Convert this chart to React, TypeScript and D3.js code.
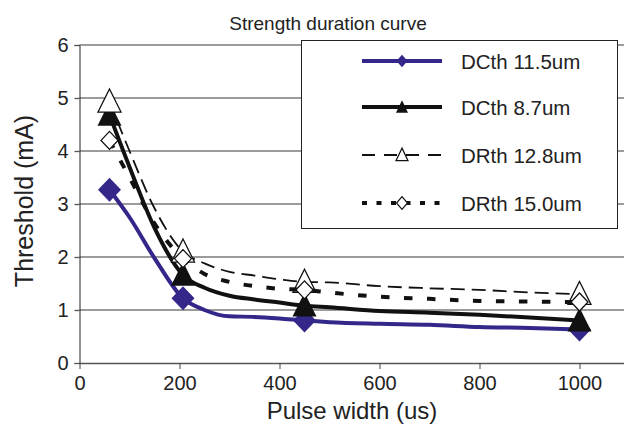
import React, { useRef, useEffect } from "react";
import * as d3 from "d3";

// pulse widths (us) where each curve was sampled
const pulseWidths = [60, 100, 150, 207, 250, 300, 350, 400, 450, 500, 600, 700, 800, 900, 1000];
// only these ones carry a marker
const markerWidths = [60, 207, 450, 1000];

const dcth115 = [3.27, 2.75, 1.98, 1.22, 1.0, 0.88, 0.87, 0.84, 0.8, 0.77, 0.74, 0.72, 0.68, 0.66, 0.63];
const dcth87 = [4.68, 3.7, 2.55, 1.66, 1.42, 1.27, 1.2, 1.14, 1.08, 1.05, 0.98, 0.95, 0.91, 0.86, 0.8];
const drth128 = [4.93, 4.0, 2.92, 2.1, 1.88, 1.72, 1.65, 1.58, 1.53, 1.52, 1.45, 1.41, 1.38, 1.33, 1.3];
const drth150 = [4.2, 3.5, 2.63, 1.97, 1.68, 1.53, 1.45, 1.4, 1.38, 1.33, 1.25, 1.21, 1.17, 1.16, 1.15];

const seriesNames = ["DCth 11.5um", "DCth 8.7um", "DRth 12.8um", "DRth 15.0um"];
const xTicks = [0, 200, 400, 600, 800, 1000];
const yTicks = [0, 1, 2, 3, 4, 5, 6];

const FONT = "'Liberation Sans', Arial, Helvetica, sans-serif";

const diamond = (w, h) => `M0,${-h}L${w},0L0,${h}L${-w},0Z`;
const triangle = (w, h) => `M0,${-h * 0.55}L${w},${h * 0.45}L${-w},${h * 0.45}Z`;

const styles = [
  { stroke: "#33288a", width: 4, dash: null, marker: "diamond", fill: "#33288a", mw: 11.5, mh: 12, lw: 5.5, lh: 6.3 },
  { stroke: "#111", width: 4, dash: null, marker: "triangle", fill: "#111", mw: 12, mh: 24, lw: 6, lh: 12.5 },
  { stroke: "#111", width: 1.8, dash: "14,7", marker: "triangle", fill: "#fff", mw: 11.5, mh: 23, lw: 6, lh: 12.5 },
  { stroke: "#111", width: 4, dash: "8.5,14.5", marker: "diamond", fill: "#fff", mw: 8.5, mh: 9, lw: 5.5, lh: 6.3 },
];

const Chart = () => {
  const width = 624;
  const height = 433;
  const svgRef = useRef(null);

  useEffect(() => {
    const svg = d3.select(svgRef.current);
    svg.selectAll("*").remove();

    const x = d3.scaleLinear([0, 1200], [79.5, 679.5]);
    const y = d3.scaleLinear([0, 6], [363, 45]);

    // gridlines
    svg
      .append("g")
      .selectAll("line")
      .data(yTicks.filter((t) => t > 0))
      .join("line")
      .attr("x1", x(0))
      .attr("x2", x(1200))
      .attr("y1", (d) => y(d))
      .attr("y2", (d) => y(d))
      .attr("stroke", "#7a7a7a")
      .attr("stroke-width", 1.3);

    // y axis
    const yAxis = svg
      .append("g")
      .attr("transform", `translate(${x(0)},0)`)
      .call(d3.axisLeft(y).tickValues(yTicks).tickSize(5).tickPadding(6).tickFormat(d3.format("d")));
    yAxis.select(".domain").attr("stroke", "#222");
    yAxis.selectAll(".tick line").attr("stroke", "#555").attr("stroke-width", 1.3);
    yAxis.selectAll("text").attr("font-size", 20).attr("font-family", FONT).attr("fill", "#222");

    // x axis
    const xAxis = svg
      .append("g")
      .attr("transform", `translate(0,${y(0)})`)
      .call(
        d3
          .axisBottom(x)
          .tickValues(xTicks)
          .tickSize(6)
          .tickPadding(7)
          .tickSizeOuter(0)
          .tickFormat(d3.format("d"))
      );
    xAxis.select(".domain").attr("stroke", "#555").attr("stroke-width", 1.3);
    xAxis.selectAll(".tick line").attr("stroke", "#444");
    xAxis.selectAll("text").attr("font-size", 20).attr("font-family", FONT).attr("fill", "#222");

    const allSeries = [dcth115, dcth87, drth128, drth150];
    const line = d3
      .line()
      .x((d) => x(d[0]))
      .y((d) => y(d[1]))
      .curve(d3.curveMonotoneX);

    allSeries.forEach((vals, i) => {
      const st = styles[i];
      const pts = pulseWidths.map((p, j) => [p, vals[j]]);
      svg
        .append("path")
        .attr("d", line(pts))
        .attr("fill", "none")
        .attr("stroke", st.stroke)
        .attr("stroke-width", st.width)
        .attr("stroke-dasharray", st.dash)
        .attr("stroke-linejoin", "round");

      const marks = pts.filter((p) => markerWidths.includes(p[0]));
      svg
        .append("g")
        .selectAll("path")
        .data(marks)
        .join("path")
        .attr("transform", (d) => `translate(${x(d[0])},${y(d[1])})`)
        .attr("d", st.marker === "diamond" ? diamond(st.mw, st.mh) : triangle(st.mw, st.mh))
        .attr("fill", st.fill)
        .attr("stroke", st.fill === "#fff" ? "#111" : "none")
        .attr("stroke-width", 1.3);
    });

    // legend
    const legend = svg.append("g");
    legend
      .append("rect")
      .attr("x", 301.5)
      .attr("y", 40.5)
      .attr("width", 316)
      .attr("height", 188)
      .attr("fill", "#fff")
      .attr("stroke", "#222")
      .attr("stroke-width", 1);

    const rowY = [61, 107, 155, 203];
    seriesNames.forEach((name, i) => {
      const st = styles[i];
      const g = legend.append("g").attr("transform", `translate(0,${rowY[i]})`);
      g.append("line")
        .attr("x1", 362)
        .attr("x2", 442)
        .attr("stroke", st.stroke)
        .attr("stroke-width", st.width)
        .attr("stroke-dasharray", st.dash ? (i === 2 ? "13,9" : "5,9.5") : null);
      g.append("path")
        .attr("transform", "translate(402,0)")
        .attr("d", st.marker === "diamond" ? diamond(st.lw, st.lh) : triangle(st.lw, st.lh))
        .attr("fill", st.fill)
        .attr("stroke", st.fill === "#fff" ? "#111" : "none")
        .attr("stroke-width", 1.2);
      g.append("text")
        .attr("x", 461)
        .attr("y", 7.5)
        .attr("font-size", 20.5)
        .attr("font-family", FONT)
        .attr("fill", "#222")
        .text(name);
    });

    // title and axis titles
    svg
      .append("text")
      .attr("x", 328)
      .attr("y", 30)
      .attr("text-anchor", "middle")
      .attr("font-size", 19)
      .attr("font-family", FONT)
      .attr("fill", "#222")
      .text("Strength duration curve");

    svg
      .append("text")
      .attr("x", 352)
      .attr("y", 419)
      .attr("text-anchor", "middle")
      .attr("font-size", 24)
      .attr("font-family", FONT)
      .attr("fill", "#222")
      .text("Pulse width (us)");

    svg
      .append("text")
      .attr("transform", "translate(33,201) rotate(-90)")
      .attr("text-anchor", "middle")
      .attr("font-size", 25)
      .attr("font-family", FONT)
      .attr("fill", "#222")
      .text("Threshold (mA)");
  }, []);

  return (
    <svg
      width={width}
      height={height}
      ref={svgRef}
      style={{ position: "absolute", left: 0, top: 0, background: "#fff" }}
    />
  );
};

export default function App() {
  return <Chart />;
}
